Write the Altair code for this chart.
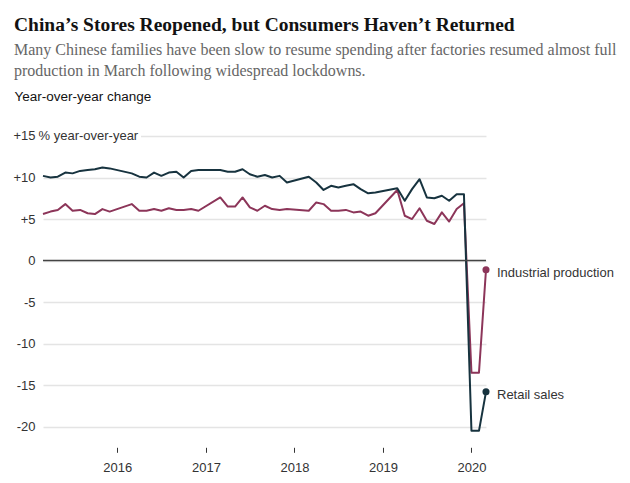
import altair as alt
import pandas as pd

# ---- data (monthly, year-over-year % change; Jan/Feb omitted except 2020) ----
months = [
    "2015-03-01", "2015-04-01", "2015-05-01", "2015-06-01", "2015-07-01",
    "2015-08-01", "2015-09-01", "2015-10-01", "2015-11-01", "2015-12-01",
    "2016-03-01", "2016-04-01", "2016-05-01", "2016-06-01", "2016-07-01",
    "2016-08-01", "2016-09-01", "2016-10-01", "2016-11-01", "2016-12-01",
    "2017-03-01", "2017-04-01", "2017-05-01", "2017-06-01", "2017-07-01",
    "2017-08-01", "2017-09-01", "2017-10-01", "2017-11-01", "2017-12-01",
    "2018-03-01", "2018-04-01", "2018-05-01", "2018-06-01", "2018-07-01",
    "2018-08-01", "2018-09-01", "2018-10-01", "2018-11-01", "2018-12-01",
    "2019-03-01", "2019-04-01", "2019-05-01", "2019-06-01", "2019-07-01",
    "2019-08-01", "2019-09-01", "2019-10-01", "2019-11-01", "2019-12-01",
    "2020-01-01", "2020-02-01", "2020-03-01",
]
retail_sales = [
    10.2, 10.0, 10.1, 10.6, 10.5, 10.8, 10.9, 11.0, 11.2, 11.1,
    10.5, 10.1, 10.0, 10.6, 10.2, 10.6, 10.7, 10.0, 10.8, 10.9,
    10.9, 10.7, 10.7, 11.0, 10.4, 10.1, 10.3, 10.0, 10.2, 9.4,
    10.1, 9.4, 8.5, 9.0, 8.8, 9.0, 9.2, 8.6, 8.1, 8.2,
    8.7, 7.2, 8.6, 9.8, 7.6, 7.5, 7.8, 7.2, 8.0, 8.0,
    -20.5, -20.5, -15.8,
]
industrial_production = [
    5.6, 5.9, 6.1, 6.8, 6.0, 6.1, 5.7, 5.6, 6.2, 5.9,
    6.8, 6.0, 6.0, 6.2, 6.0, 6.3, 6.1, 6.1, 6.2, 6.0,
    7.6, 6.5, 6.5, 7.6, 6.4, 6.0, 6.6, 6.2, 6.1, 6.2,
    6.0, 7.0, 6.8, 6.0, 6.0, 6.1, 5.8, 5.9, 5.4, 5.7,
    8.5, 5.4, 5.0, 6.3, 4.8, 4.4, 5.8, 4.7, 6.2, 6.9,
    -13.5, -13.5, -1.1,
]
series_names = ["Industrial production", "Retail sales"]
series_colors = ["#8c3559", "#17333f"]
y_ticks = [15, 10, 5, 0, -5, -10, -15, -20]
x_tick_years = [2016, 2017, 2018, 2019, 2020]

title_text = "China\u2019s Stores Reopened, but Consumers Haven\u2019t Returned"
subtitle_lines = [
    "Many Chinese families have been slow to resume spending after factories resumed almost full",
    "production in March following widespread lockdowns.",
]

df = pd.concat([
    pd.DataFrame({"date": months, "value": industrial_production, "series": series_names[0]}),
    pd.DataFrame({"date": months, "value": retail_sales, "series": series_names[1]}),
])
last = df[df["date"] == months[-1]]

SANS = "Liberation Sans"
SERIF = "Liberation Serif"

x_scale = alt.Scale(
    type="utc",
    domain=[alt.DateTime(year=2015, month=3, date=1, utc=True),
            alt.DateTime(year=2020, month=3, date=1, utc=True)],
)
y_scale = alt.Scale(domain=[-22, 15], nice=False, zero=False)

x_enc = alt.X(
    "date:T",
    scale=x_scale,
    axis=alt.Axis(
        values=[alt.DateTime(year=y, month=1, date=1, utc=True) for y in x_tick_years],
        labelExpr="utcFormat(datum.value, '%Y')",
        title=None, domain=False, grid=False,
        ticks=True, tickSize=5, tickColor="#333333", tickWidth=1,
        offset=4, labelPadding=9, labelFont=SANS, labelFontSize=13,
        labelColor="#333333",
    ),
)
y_enc = alt.Y(
    "value:Q",
    scale=y_scale,
    axis=alt.Axis(
        values=y_ticks,
        labelExpr="datum.value > 0 ? '+' + datum.value : '' + datum.value",
        domain=False, ticks=False, grid=True, gridColor="#e4e4e4", gridWidth=1.5,
        labelPadding=8, labelFont=SANS, labelFontSize=13, labelColor="#333333",
        title="Year-over-year change", titleAngle=0, titleAlign="left",
        titleBaseline="middle", titleX=-29, titleY=-39, titleFont=SANS,
        titleFontSize=13.5, titleFontWeight="normal", titleColor="#121212",
    ),
)
color_enc = alt.Color("series:N", scale=alt.Scale(domain=series_names, range=series_colors), legend=None)
x_plain = alt.X("date:T", scale=x_scale)
y_plain = alt.Y("value:Q", scale=y_scale)

# white patch that interrupts the +15 gridline behind its unit text
mask = alt.Chart(pd.DataFrame({"v": [15]})).mark_rect(color="white").encode(
    x=alt.value(-6), x2=alt.value(98), y=alt.value(-2.5), y2=alt.value(2.5)
)
unit_text = alt.Chart(pd.DataFrame({"value": [15], "t": ["% year-over-year"]})).mark_text(
    align="left", baseline="middle", font=SANS, fontSize=13, color="#333333"
).encode(x=alt.value(-4.4), y=y_plain, text="t:N")

zero_rule = alt.Chart(pd.DataFrame({"value": [0]})).mark_rule(color="#444444", strokeWidth=1.5).encode(
    y=y_plain
)

lines = alt.Chart(df).mark_line(strokeWidth=2, strokeJoin="round").encode(
    x=x_enc, y=y_enc, color=color_enc, detail="series:N"
)
dots = alt.Chart(last).mark_circle(size=50, opacity=1).encode(
    x=x_plain, y=y_plain, color=color_enc
)
labels = alt.Chart(last).mark_text(
    align="left", baseline="middle", dx=11, dy=3, font=SANS, fontSize=13, color="#333333"
).encode(x=x_plain, y=y_plain, text="series:N")

chart = alt.layer(lines, mask, unit_text, zero_rule, dots, labels).properties(
    width=443,
    height=307.3,
    background="white",
    autosize=alt.AutoSizeParams(type="none"),
    padding={"left": 43, "top": 136, "right": 144, "bottom": 40},
    title=alt.Title(
        text=title_text,
        subtitle=subtitle_lines,
        anchor="start", frame="group", dx=-29, offset=10,
        font=SERIF, fontSize=19.5, fontWeight="bold", color="#121212",
        subtitleFont=SERIF, subtitleFontSize=16, subtitleColor="#666666",
        subtitleLineHeight=21, subtitlePadding=6,
    ),
).configure_view(strokeWidth=0, stroke=None)

chart.save("out.html", embed_options={"renderer": "svg", "actions": False})
